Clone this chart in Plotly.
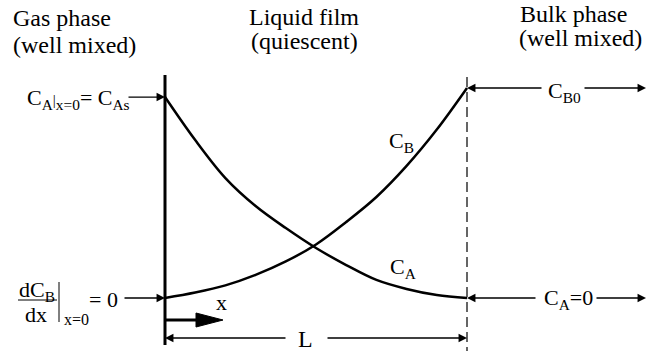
import plotly.graph_objects as go

# Film-theory sketch: concentration profiles of A and B across a quiescent liquid film
# Position is scaled by the film thickness (x/L), concentrations by the bulk value C_B0.
film_pos = [0.0, 0.1, 0.2, 0.3, 0.4, 0.5, 0.6, 0.7, 0.8, 0.9, 1.0]
conc_A = [0.957, 0.752, 0.571, 0.438, 0.333, 0.238, 0.157, 0.086, 0.043, 0.014, 0.0]
conc_B = [0.0, 0.026, 0.060, 0.110, 0.174, 0.255, 0.362, 0.481, 0.629, 0.802, 1.0]

SERIF = "'Liberation Serif', 'Times New Roman', Times, serif"
W, H = 647, 351


# Canvas placement helpers: the film wall sits 165 px from the left, L spans 302 px,
# zero concentration sits 298 px from the top and one unit spans 210 px.
def px(u):
    return (u - 165) / 302


def py(v):
    return (298 - v) / 210


def text(t, x, y, size=22, xanchor="center"):
    return dict(text=t, x=x, y=y, xref="x", yref="y", showarrow=False,
                xanchor=xanchor, yanchor="middle", borderpad=0,
                font=dict(family=SERIF, size=size, color="black"))


def arrow(x0, y0, x1, y1, width=1.3, size=1.3):
    return dict(text="", x=x1, y=y1, ax=x0, ay=y0, xref="x", yref="y",
                axref="x", ayref="y", showarrow=True, arrowhead=2,
                arrowsize=size, arrowwidth=width, arrowcolor="black",
                standoff=0, startstandoff=0)


fig = go.Figure()

fig.add_trace(go.Scatter(x=film_pos, y=conc_A, mode="lines",
                         line=dict(color="black", width=2.5, shape="spline"),
                         hoverinfo="skip"))
fig.add_trace(go.Scatter(x=film_pos, y=conc_B, mode="lines",
                         line=dict(color="black", width=2.5, shape="spline"),
                         hoverinfo="skip"))

L_end = film_pos[-1]
shapes = [
    # gas-liquid interface (solid) and film edge (dashed)
    dict(type="line", xref="x", yref="y", x0=0, x1=0, y0=py(75), y1=py(345),
         line=dict(color="black", width=3)),
    dict(type="line", xref="x", yref="y", x0=L_end, x1=L_end, y0=py(77), y1=py(351),
         line=dict(color="#333333", width=1.5, dash="10px,5px")),
    # direction of x
    dict(type="line", xref="x", yref="y", x0=0, x1=px(200), y0=py(320), y1=py(320),
         line=dict(color="black", width=3)),
    dict(type="path", xref="x", yref="y",
         path=f"M{px(196)},{py(313)} L{px(223)},{py(320)} L{px(196)},{py(327)} Z",
         fillcolor="black", line=dict(color="black", width=1)),
    # fraction bar and evaluation bar of dC_B/dx
    dict(type="line", xref="x", yref="y", x0=px(18), x1=px(57), y0=py(300), y1=py(300),
         line=dict(color="black", width=1)),
    dict(type="line", xref="x", yref="y", x0=px(59), x1=px(59), y0=py(282), y1=py(322),
         line=dict(color="black", width=1)),
]

annotations = [
    # region headers
    text("Gas phase", px(12), py(18), 24, "left"),
    text("(well mixed)", px(12), py(45), 24, "left"),
    text("Liquid film", px(304), py(17), 24),
    text("(quiescent)", px(304), py(41), 24),
    text("Bulk phase", px(519), py(14), 24, "left"),
    text("(well mixed)", px(518), py(38), 24, "left"),
    # curve labels
    text("C<sub>B</sub>", px(401), py(142)),
    text("C<sub>A</sub>", px(403), py(268)),
    # boundary condition at the interface for A
    text("C<sub>A</sub><span style='font-size:15px'>|</span><sub>x=0</sub>= C<sub>As</sub>",
         px(131), py(99), 22, "right"),
    arrow(px(127), conc_A[0], 0, conc_A[0]),
    # boundary condition at the interface for B
    text("dC<sub>B</sub>", px(37), py(291)),
    text("dx", px(36), py(314)),
    text("x=0", px(76), py(319), 16),
    text("= 0", px(103), py(299)),
    arrow(px(123), conc_B[0], 0, conc_B[0]),
    # bulk-side conditions
    text("C<sub>B0</sub>", px(564), py(92)),
    arrow(px(543), conc_B[-1], L_end, conc_B[-1]),
    arrow(px(583), conc_B[-1], px(646), conc_B[-1]),
    text("C<sub>A</sub>=0", px(568), py(299)),
    arrow(px(537), conc_A[-1], L_end, conc_A[-1]),
    arrow(px(595), conc_A[-1], px(646), conc_A[-1]),
    # coordinate and film thickness
    text("x", px(221), py(302), 22),
    text("L", px(305), py(339), 24),
    arrow(px(287), py(338), 0, py(338)),
    arrow(px(326), py(338), L_end, py(338)),
]

fig.update_layout(
    width=W, height=H,
    margin=dict(l=0, r=0, t=0, b=0),
    paper_bgcolor="white", plot_bgcolor="white",
    showlegend=False,
    shapes=shapes, annotations=annotations,
    xaxis=dict(range=[px(0), px(W)], visible=False, fixedrange=True),
    yaxis=dict(range=[py(H), py(0)], visible=False, fixedrange=True),
)

fig.write_html("out.html", config=dict(displayModeBar=False))
